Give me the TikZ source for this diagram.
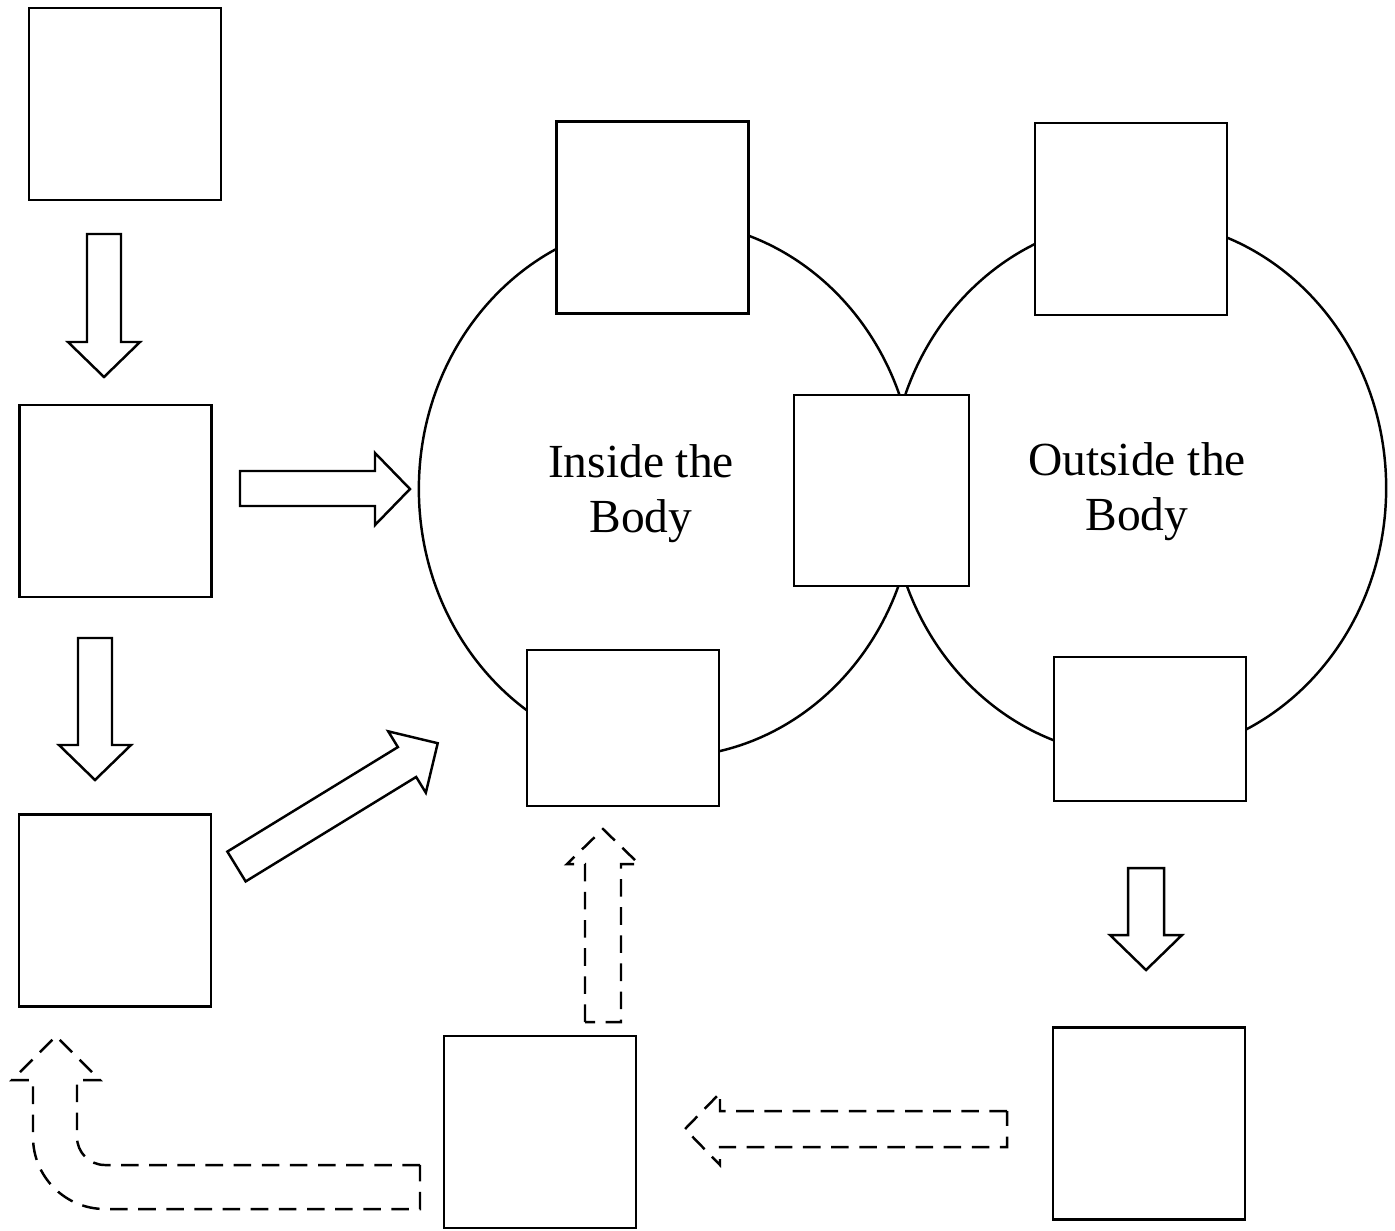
\documentclass[tikz,border=0pt]{standalone}
\usepackage{fontspec}
\setmainfont{Liberation Serif}
\usetikzlibrary{shapes.geometric}
\tikzset{
  box/.style={draw, fill=white, line width=0.7pt, inner sep=0pt, minimum width=1.92cm, minimum height=1.92cm},
  ring/.style={draw, ellipse, line width=0.7pt, inner sep=0pt, minimum width=4.96cm, minimum height=5.36cm},
  fatarrow/.style={draw, line width=0.7pt, line join=miter},
  dasharrow/.style={fatarrow, dash pattern=on 5pt off 3pt},
  zonetext/.style={align=center, inner sep=0pt, font=\fontsize{13.5}{15.7}\selectfont}
}
\begin{document}
\begin{tikzpicture}[x=0.01cm, y=-0.01cm]
\useasboundingbox (0,0) rectangle (1395,1230);
% the two regions
\node[ring] (inside) at (667,489) {};
\node[ring] (outside) at (1138,488) {};
\node[zonetext] (insidetext) at (641,494) {Inside the\\Body};
\node[zonetext] (outsidetext) at (1137,492) {Outside the\\Body};
% boxes
\node[box] (b1) at (125,104) {};
\node[box] (b2) at (115.5,501) {};
\node[box] (b3) at (115,910.5) {};
\node[box] (intop) at (652.5,217.5) {};
\node[box] (outtop) at (1131,219) {};
\node[box, minimum width=1.75cm, minimum height=1.91cm] (mid) at (881.5,490.5) {};
\node[box, minimum height=1.56cm] (inbot) at (623,728) {};
\node[box, minimum height=1.44cm] (outbot) at (1150,729) {};
\node[box] (b9) at (1149,1123.5) {};
\node[box] (b10) at (540,1132) {};
% solid block arrows
\draw[fatarrow] (87,234) -- (87,342) -- (68,342) -- (104,377) -- (140,342) -- (121,342) -- (121,234) -- cycle;
\draw[fatarrow] (240,471) -- (375,471) -- (375,453) -- (410,489) -- (375,525) -- (375,506) -- (240,506) -- cycle;
\draw[fatarrow] (78,638) -- (78,745) -- (59,745) -- (95,780) -- (131,745) -- (112,745) -- (112,638) -- cycle;
\draw[fatarrow, shift={(236.5,866.5)}, rotate=31.5] (0,-17.5) -- (200,-17.5) -- (200,-36) -- (236,0) -- (200,36) -- (200,17.5) -- (0,17.5) -- cycle;
\draw[fatarrow] (1128,868) -- (1128,935) -- (1110,935) -- (1146,970) -- (1182,935) -- (1164,935) -- (1164,868) -- cycle;
% dashed block arrows
\draw[dasharrow] (1007,1111) -- (720,1111) -- (720,1093) -- (685,1129) -- (720,1165) -- (720,1147) -- (1007,1147) -- cycle;
\draw[dasharrow] (585,1022) -- (585,864) -- (567,864) -- (603,829) -- (639,864) -- (621,864) -- (621,1022) -- cycle;
\draw[dasharrow] (420,1165) -- (105,1165) .. controls (89.5,1165) and (77,1152.5) .. (77,1137) -- (77,1080) -- (100,1080) -- (56,1036) -- (12,1080) -- (33,1080) -- (33,1137) .. controls (33,1176.8) and (65.2,1209) .. (105,1209) -- (420,1209) -- cycle;
\end{tikzpicture}
\end{document}
